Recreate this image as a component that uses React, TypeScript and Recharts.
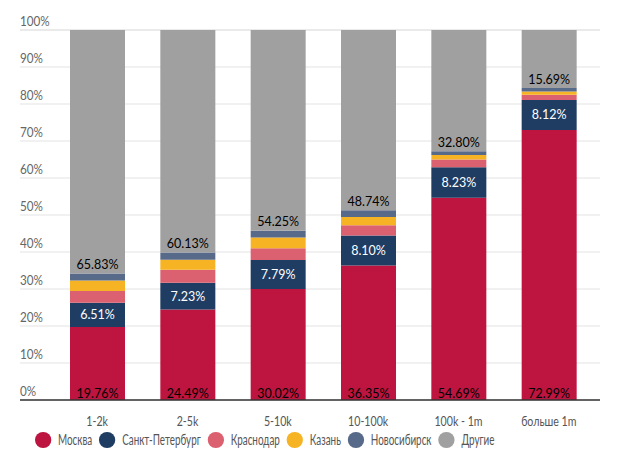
import { BarChart, Bar, XAxis, YAxis, CartesianGrid, LabelList } from "recharts";

const categories = ["1-2k", "2-5k", "5-10k", "10-100k", "100k - 1m", "больше 1m"];

const moscow = [19.76, 24.49, 30.02, 36.35, 54.69, 72.99];
const spb = [6.51, 7.23, 7.79, 8.1, 8.23, 8.12];
const krasnodar = [3.2, 3.5, 3.2, 2.8, 2.1, 1.4];
const kazan = [2.8, 2.7, 2.9, 2.2, 1.2, 0.9];
const novosib = [1.9, 1.95, 1.84, 1.81, 0.98, 0.9];
const others = [65.83, 60.13, 54.25, 48.74, 32.8, 15.69];

const yTicks = [0, 10, 20, 30, 40, 50, 60, 70, 80, 90, 100];

const series = [
  { key: "moscow", name: "Москва", color: "#bd1540", values: moscow },
  { key: "spb", name: "Санкт-Петербург", color: "#1f3d63", values: spb },
  { key: "krasnodar", name: "Краснодар", color: "#dc6170", values: krasnodar },
  { key: "kazan", name: "Казань", color: "#f6b323", values: kazan },
  { key: "novosib", name: "Новосибирск", color: "#586a89", values: novosib },
  { key: "others", name: "Другие", color: "#a0a0a0", values: others },
];

const data = categories.map((c, i) => {
  const row: any = { name: c };
  series.forEach((s) => {
    row[s.key] = s.values[i];
  });
  return row;
});

const FONT = "Lato, 'Open Sans', sans-serif";
// the source uses a narrow face; squeeze Lato horizontally instead
const SQUEEZE = 0.76;
const LEGEND_SQUEEZE = 0.68;

const fmt = (v: number) => v.toFixed(2) + "%";

// label near the bottom of a segment
const BottomLabel = ({ x, y, width, height, value, fill, off }: any) => (
  <text
    x={x + width / 2}
    y={y + height - off}
    textAnchor="middle"
    dominantBaseline="central"
    fill={fill}
    fontSize={12.5}
    fontFamily={FONT}
  >
    {fmt(value)}
  </text>
);

const CenterLabel = ({ x, y, width, height, value }: any) => (
  <text
    x={x + width / 2}
    y={y + height / 2}
    textAnchor="middle"
    dominantBaseline="central"
    fill="#fff"
    fontSize={12.5}
    fontFamily={FONT}
  >
    {fmt(value)}
  </text>
);

const YTick = (props: any) => (
  <g transform={`translate(20,${props.y - 4})`}>
    <text transform="scale(0.9,1)" textAnchor="start" fill="#666" fontSize={13} fontFamily={FONT}>
      {props.payload.value}%
    </text>
  </g>
);

const XTick = (props: any) => (
  <g transform={`translate(${props.x},${props.y + 18})`}>
    <text transform={`scale(${SQUEEZE},1)`} textAnchor="middle" fill="#555" fontSize={14} fontFamily={FONT}>
      {props.payload.value}
    </text>
  </g>
);

export default function App() {
  return (
    <div style={{ position: "absolute", left: 0, top: 0, width: 620, height: 459, background: "#fff" }}>
      <BarChart
        width={620}
        height={459}
        data={data}
        margin={{ top: 30, right: 20, left: -10, bottom: 0 }}
      >
        <CartesianGrid vertical={false} stroke="#e3e3e3" />
        <XAxis
          dataKey="name"
          height={59}
          padding={{ left: 32, right: 6 }}
          axisLine={{ stroke: "#333", strokeWidth: 1.5 }}
          tickLine={false}
          tick={(p: any) => <XTick {...p} />}
        />
        <YAxis
          width={30}
          domain={[0, 100]}
          ticks={yTicks}
          axisLine={false}
          tickLine={false}
          tick={(p: any) => <YTick {...p} />}
          interval={0}
        />
        {series.map((s) => (
          <Bar
            key={s.key}
            dataKey={s.key}
            stackId="a"
            fill={s.color}
            barSize={55}
            isAnimationActive={false}
          >
            {s.key === "moscow" && (
              <LabelList dataKey="moscow" content={<BottomLabel fill="#fff" off={7} />} />
            )}
            {s.key === "spb" && <LabelList dataKey="spb" content={<CenterLabel />} />}
            {s.key === "others" && (
              <LabelList dataKey="others" content={<BottomLabel fill="#333" off={9} />} />
            )}
          </Bar>
        ))}
      </BarChart>
      <div
        style={{
          position: "absolute",
          top: 431,
          left: 35,
          display: "flex",
          fontFamily: FONT,
          fontSize: 14.5,
          color: "#555",
          transform: `scaleX(${LEGEND_SQUEEZE})`,
          transformOrigin: "left center",
          whiteSpace: "nowrap",
        }}
      >
        {series.map((s) => (
          <div key={s.key} style={{ display: "flex", alignItems: "center", marginRight: 7 / LEGEND_SQUEEZE }}>
            <span
              style={{
                width: 16 / LEGEND_SQUEEZE,
                height: 16,
                borderRadius: "50%",
                background: s.color,
                display: "inline-block",
                marginRight: 7 / LEGEND_SQUEEZE,
              }}
            />
            <span>{s.name}</span>
          </div>
        ))}
      </div>
    </div>
  );
}
